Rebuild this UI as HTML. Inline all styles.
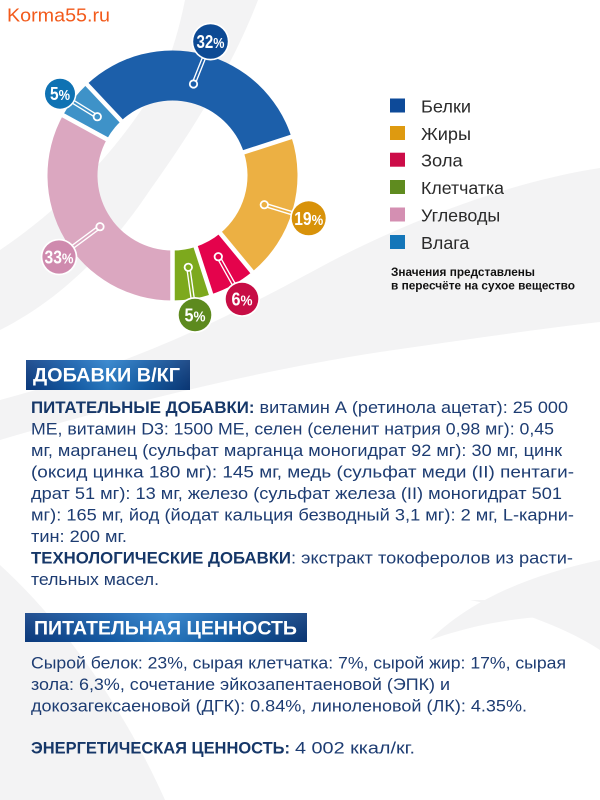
<!DOCTYPE html>
<html lang="ru">
<head>
<meta charset="utf-8">
<style>
  html, body { margin: 0; padding: 0; background: #ffffff; }
  svg { display: block; }
  text { font-family: "Liberation Sans", "DejaVu Sans", sans-serif; }
</style>
</head>
<body>
<svg width="600" height="800" viewBox="0 0 600 800" xmlns="http://www.w3.org/2000/svg">
  <defs>
    <linearGradient id="hdr" x1="0" y1="0" x2="1" y2="0">
      <stop offset="0" stop-color="#0d3e85"/>
      <stop offset="0.3" stop-color="#1561b0"/>
      <stop offset="0.5" stop-color="#2a7fcb"/>
      <stop offset="0.72" stop-color="#135fab"/>
      <stop offset="1" stop-color="#0b3a7c"/>
    </linearGradient>
    <linearGradient id="shine" x1="0" y1="0" x2="0" y2="1">
      <stop offset="0" stop-color="#ffffff" stop-opacity="0.10"/>
      <stop offset="1" stop-color="#000000" stop-opacity="0.08"/>
    </linearGradient>
  </defs>

  <!-- background -->
  <rect x="0" y="0" width="600" height="800" fill="#ffffff"/>
  <g fill="#f3f3f4">
    <path d="M600,168 C520,180 420,215 330,262 C250,305 150,360 0,400 L0,440 C120,405 250,372 380,352 C450,342 530,330 600,322 Z"/>
    <path d="M185,0 L258,0 C235,60 200,120 150,190 C110,250 60,300 0,330 L0,250 C60,210 120,150 160,80 C172,55 180,25 185,0 Z"/>
    <path d="M0,565 C60,620 120,700 165,800 L0,800 Z"/>
    <path d="M600,560 C530,575 470,600 430,640 C480,622 540,612 600,618 Z"/>
    <path d="M470,600 C520,610 570,630 600,650 L600,600 Z"/>
  </g>

  <!-- watermark -->
  <text x="7" y="21.7" font-size="18" fill="#f25a1b" textLength="103" lengthAdjust="spacingAndGlyphs">Korma55.ru</text>

  <!-- donut segments -->
  <path fill="#dba7c0" d="M172.5,300.5 A125,125 0 0 1 62.96,115.27 L106.78,139.36 A75,75 0 0 0 172.5,250.5 Z"/>
  <path fill="#3e92c8" d="M62.96,115.27 A125,125 0 0 1 86.94,84.37 L121.16,120.82 A75,75 0 0 0 106.78,139.36 Z"/>
  <path fill="#1c5faa" d="M86.94,84.37 A125,125 0 0 1 291.39,136.87 L243.83,152.32 A75,75 0 0 0 121.16,120.82 Z"/>
  <path fill="#ecb043" d="M291.39,136.87 A125,125 0 0 1 252.18,271.81 L220.31,233.29 A75,75 0 0 0 243.83,152.32 Z"/>
  <path fill="#e4034c" d="M252.18,271.81 A125,125 0 0 1 211.13,294.39 L195.68,246.83 A75,75 0 0 0 220.31,233.29 Z"/>
  <path fill="#7da91d" d="M211.13,294.39 A125,125 0 0 1 172.5,300.5 L172.5,250.5 A75,75 0 0 0 195.68,246.83 Z"/>

  <!-- separators -->
  <g stroke="#ffffff" stroke-width="4.5">
    <line x1="172.5" y1="245" x2="172.5" y2="306"/>
    <line x1="111.9" y1="142" x2="57.7" y2="112.4"/>
    <line x1="124.6" y1="124.5" x2="82.8" y2="80"/>
    <line x1="238.8" y1="153.9" x2="296.6" y2="135.2"/>
    <line x1="216.9" y1="229.2" x2="255.9" y2="276.4"/>
    <line x1="193.9" y1="241.3" x2="212.9" y2="299.9"/>
  </g>

  <!-- connectors -->
  <g stroke-linecap="round">
    <line x1="210.5" y1="41.5" x2="193.5" y2="84" stroke="#ffffff" stroke-width="4.5"/>
    <line x1="210.5" y1="41.5" x2="193.5" y2="84" stroke="#1c5faa" stroke-width="1.8"/>
    <circle cx="193.5" cy="84" r="4.6" fill="#ffffff"/>
    <circle cx="193.5" cy="84" r="2.8" fill="#1c5faa"/>

    <line x1="60" y1="93.7" x2="97.3" y2="116.7" stroke="#ffffff" stroke-width="4.5"/>
    <line x1="60" y1="93.7" x2="97.3" y2="116.7" stroke="#3e92c8" stroke-width="1.8"/>
    <circle cx="97.3" cy="116.7" r="4.6" fill="#ffffff"/>
    <circle cx="97.3" cy="116.7" r="2.8" fill="#3e92c8"/>

    <line x1="308.7" y1="218.3" x2="264.3" y2="204.7" stroke="#ffffff" stroke-width="4.5"/>
    <line x1="308.7" y1="218.3" x2="264.3" y2="204.7" stroke="#ecb043" stroke-width="1.8"/>
    <circle cx="264.3" cy="204.7" r="4.6" fill="#ffffff"/>
    <circle cx="264.3" cy="204.7" r="2.8" fill="#ecb043"/>

    <line x1="242" y1="299" x2="218.3" y2="256.7" stroke="#ffffff" stroke-width="4.5"/>
    <line x1="242" y1="299" x2="218.3" y2="256.7" stroke="#e4034c" stroke-width="1.8"/>
    <circle cx="218.3" cy="256.7" r="4.6" fill="#ffffff"/>
    <circle cx="218.3" cy="256.7" r="2.8" fill="#e4034c"/>

    <line x1="195" y1="315" x2="188.3" y2="267.3" stroke="#ffffff" stroke-width="4.5"/>
    <line x1="195" y1="315" x2="188.3" y2="267.3" stroke="#7da91d" stroke-width="1.8"/>
    <circle cx="188.3" cy="267.3" r="4.6" fill="#ffffff"/>
    <circle cx="188.3" cy="267.3" r="2.8" fill="#7da91d"/>

    <line x1="59" y1="257" x2="100" y2="226.7" stroke="#ffffff" stroke-width="4.5"/>
    <line x1="59" y1="257" x2="100" y2="226.7" stroke="#dba7c0" stroke-width="1.8"/>
    <circle cx="100" cy="226.7" r="4.6" fill="#ffffff"/>
    <circle cx="100" cy="226.7" r="2.8" fill="#dba7c0"/>
  </g>

  <!-- label circles -->
  <g font-weight="bold" fill="#ffffff" text-anchor="middle">
    <circle cx="210.5" cy="41.5" r="19" fill="#ffffff"/>
    <circle cx="210.5" cy="41.5" r="17.3" fill="#0d4a94"/>
    <text x="210.5" y="48" font-size="18" fill="#ffffff" textLength="28" lengthAdjust="spacingAndGlyphs">32<tspan font-size="15">%</tspan></text>

    <circle cx="60" cy="93.7" r="16.5" fill="#ffffff"/>
    <circle cx="60" cy="93.7" r="15" fill="#0f72b3"/>
    <text x="60" y="100.2" font-size="18" fill="#ffffff" textLength="20" lengthAdjust="spacingAndGlyphs">5<tspan font-size="15">%</tspan></text>

    <circle cx="308.7" cy="218.3" r="18.7" fill="#ffffff"/>
    <circle cx="308.7" cy="218.3" r="17" fill="#d8920a"/>
    <text x="308.7" y="224.8" font-size="18" fill="#ffffff" textLength="29" lengthAdjust="spacingAndGlyphs">19<tspan font-size="15">%</tspan></text>

    <circle cx="242" cy="299" r="18" fill="#ffffff"/>
    <circle cx="242" cy="299" r="16.3" fill="#c70d45"/>
    <text x="242" y="305.5" font-size="18" fill="#ffffff" textLength="21" lengthAdjust="spacingAndGlyphs">6<tspan font-size="15">%</tspan></text>

    <circle cx="195" cy="315" r="18" fill="#ffffff"/>
    <circle cx="195" cy="315" r="16.3" fill="#5d8a1e"/>
    <text x="195" y="321.5" font-size="18" fill="#ffffff" textLength="21" lengthAdjust="spacingAndGlyphs">5<tspan font-size="15">%</tspan></text>

    <circle cx="59" cy="257" r="18.3" fill="#ffffff"/>
    <circle cx="59" cy="257" r="16.6" fill="#cf8aae"/>
    <text x="59" y="263.5" font-size="18" fill="#ffffff" textLength="29" lengthAdjust="spacingAndGlyphs">33<tspan font-size="15">%</tspan></text>
  </g>

  <!-- legend -->
  <rect x="390" y="98.5" width="15" height="14" fill="#0d4a99"/>
  <rect x="390" y="126" width="15" height="14" fill="#de9a10"/>
  <rect x="390" y="152.7" width="15" height="14" fill="#cc0c48"/>
  <rect x="390" y="180" width="15" height="14" fill="#5f8b1f"/>
  <rect x="390" y="207.5" width="15" height="14" fill="#d48fb2"/>
  <rect x="390" y="235" width="15" height="14" fill="#1476b9"/>
  <g font-size="17.5" fill="#2a2a2a">
    <text x="421" y="112.5" textLength="50" lengthAdjust="spacingAndGlyphs">Белки</text>
    <text x="421" y="140" textLength="50" lengthAdjust="spacingAndGlyphs">Жиры</text>
    <text x="421" y="166.7" textLength="41.7" lengthAdjust="spacingAndGlyphs">Зола</text>
    <text x="421" y="194" textLength="83" lengthAdjust="spacingAndGlyphs">Клетчатка</text>
    <text x="421" y="221.5" textLength="79.3" lengthAdjust="spacingAndGlyphs">Углеводы</text>
    <text x="421" y="249" textLength="48.3" lengthAdjust="spacingAndGlyphs">Влага</text>
  </g>
  <g font-size="11.5" font-weight="bold" fill="#111111">
    <text x="391" y="276" textLength="144" lengthAdjust="spacingAndGlyphs">Значения представлены</text>
    <text x="391" y="289.5" textLength="184" lengthAdjust="spacingAndGlyphs">в пересчёте на сухое вещество</text>
  </g>

  <!-- header 1 -->
  <rect x="26" y="360" width="164" height="30" fill="url(#hdr)"/>
  <rect x="26" y="360" width="164" height="30" fill="url(#shine)"/>
  <text x="33" y="381.5" font-size="19" font-weight="bold" fill="#ffffff" textLength="147" lengthAdjust="spacingAndGlyphs">ДОБАВКИ В/КГ</text>

  <!-- section 1 text -->
  <g font-size="17" fill="#1d3c72">
    <text x="31" y="413" font-weight="bold" fill="#163768" textLength="223.5" lengthAdjust="spacingAndGlyphs">ПИТАТЕЛЬНЫЕ ДОБАВКИ:</text>
    <text x="259.5" y="413" textLength="308.5" lengthAdjust="spacingAndGlyphs">витамин А (ретинола ацетат): 25 000</text>
    <text x="31" y="434.5" textLength="523" lengthAdjust="spacingAndGlyphs">МЕ, витамин D3: 1500 МЕ, селен (селенит натрия 0,98 мг): 0,45</text>
    <text x="31" y="456" textLength="531" lengthAdjust="spacingAndGlyphs">мг, марганец (сульфат марганца моногидрат 92 мг): 30 мг, цинк</text>
    <text x="31" y="477.5" textLength="543" lengthAdjust="spacingAndGlyphs">(оксид цинка 180 мг): 145 мг, медь (сульфат меди (II) пентаги-</text>
    <text x="31" y="499" textLength="531" lengthAdjust="spacingAndGlyphs">драт 51 мг): 13 мг, железо (сульфат железа (II) моногидрат 501</text>
    <text x="31" y="520.5" textLength="543" lengthAdjust="spacingAndGlyphs">мг): 165 мг, йод (йодат кальция безводный 3,1 мг): 2 мг, L-карни-</text>
    <text x="31" y="542" textLength="96" lengthAdjust="spacingAndGlyphs">тин: 200 мг.</text>
    <text x="31" y="563.5" font-weight="bold" fill="#163768" textLength="260" lengthAdjust="spacingAndGlyphs">ТЕХНОЛОГИЧЕСКИЕ ДОБАВКИ</text>
    <text x="291" y="563.5" textLength="282" lengthAdjust="spacingAndGlyphs">: экстракт токоферолов из расти-</text>
    <text x="31" y="585" textLength="128" lengthAdjust="spacingAndGlyphs">тельных масел.</text>
  </g>

  <!-- header 2 -->
  <rect x="25" y="613" width="282" height="29" fill="url(#hdr)"/>
  <rect x="25" y="613" width="282" height="29" fill="url(#shine)"/>
  <text x="34" y="634.5" font-size="19" font-weight="bold" fill="#ffffff" textLength="263" lengthAdjust="spacingAndGlyphs">ПИТАТЕЛЬНАЯ ЦЕННОСТЬ</text>

  <!-- section 2 text -->
  <g font-size="17" fill="#1d3c72">
    <text x="31" y="668.5" textLength="535" lengthAdjust="spacingAndGlyphs">Сырой белок: 23%, сырая клетчатка: 7%, сырой жир: 17%, сырая</text>
    <text x="31" y="690" textLength="419" lengthAdjust="spacingAndGlyphs">зола: 6,3%, сочетание эйкозапентаеновой (ЭПК) и</text>
    <text x="31" y="711.5" textLength="496" lengthAdjust="spacingAndGlyphs">докозагексаеновой (ДГК): 0.84%, линоленовой (ЛК): 4.35%.</text>
    <text x="31" y="753.5" font-weight="bold" fill="#163768" textLength="259" lengthAdjust="spacingAndGlyphs">ЭНЕРГЕТИЧЕСКАЯ ЦЕННОСТЬ:</text>
    <text x="295" y="753.5" textLength="120" lengthAdjust="spacingAndGlyphs">4 002 ккал/кг.</text>
  </g>
</svg>
</body>
</html>
